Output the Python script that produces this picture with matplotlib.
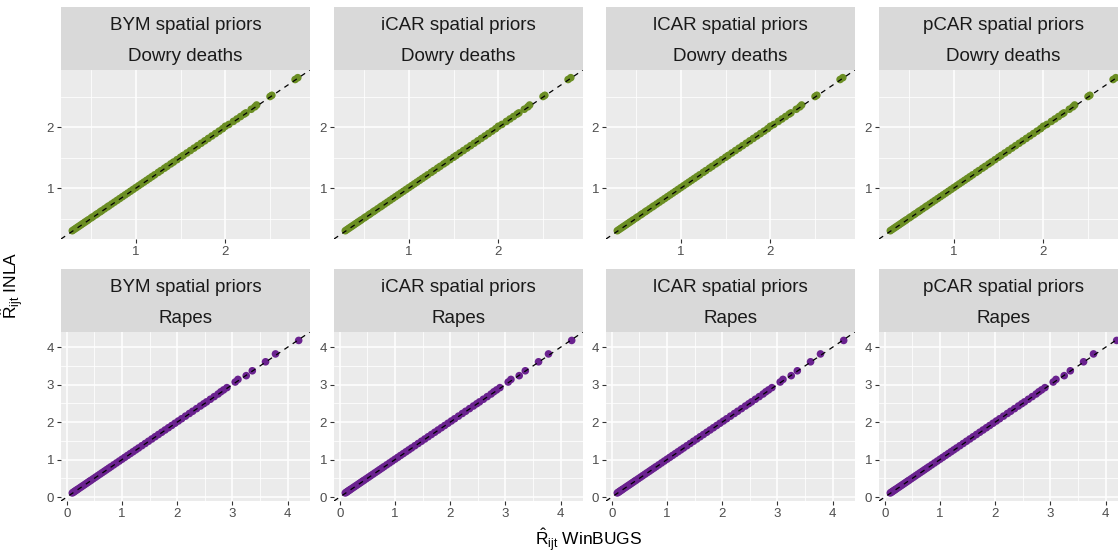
import numpy as np
import matplotlib
matplotlib.use("Agg")
import matplotlib.pyplot as plt

plt.rcParams['font.family'] = ['Liberation Sans', 'DejaVu Sans']
plt.rcParams['mathtext.fontset'] = 'custom'
plt.rcParams['mathtext.rm'] = 'Liberation Sans'
plt.rcParams['mathtext.it'] = 'Liberation Sans:italic'

models = ['BYM', 'iCAR', 'lCAR', 'pCAR']
crimes = ['Dowry deaths', 'Rapes']
colours = {'Dowry deaths': '#6B8E23', 'Rapes': '#6A228F'}

# relative risk estimates (WinBUGS on x, INLA on y)
dowry_bugs = [0.29, 0.31, 0.33, 0.35, 0.37, 0.39, 0.41, 0.43, 0.45, 0.47,
              0.50, 0.52, 0.55, 0.57, 0.60, 0.62, 0.65, 0.68, 0.70, 0.73,
              0.76, 0.79, 0.82, 0.85, 0.88, 0.91, 0.94, 0.97, 1.00, 1.03,
              1.06, 1.09, 1.12, 1.15, 1.18, 1.21, 1.25, 1.28, 1.32, 1.35,
              1.39, 1.42, 1.46, 1.50, 1.53, 1.57, 1.61, 1.65, 1.69, 1.73,
              1.77, 1.81, 1.85, 1.89, 1.93, 1.97, 2.00, 2.04, 2.09, 2.13,
              2.17, 2.21, 2.23, 2.29, 2.33, 2.35, 2.50, 2.52, 2.78, 2.81]
dowry_inla = [0.30, 0.32, 0.34, 0.36, 0.38, 0.40, 0.42, 0.44, 0.46, 0.48,
              0.51, 0.53, 0.56, 0.58, 0.61, 0.63, 0.66, 0.69, 0.71, 0.74,
              0.77, 0.80, 0.83, 0.86, 0.89, 0.92, 0.95, 0.98, 1.01, 1.04,
              1.07, 1.10, 1.13, 1.16, 1.19, 1.22, 1.26, 1.29, 1.33, 1.36,
              1.40, 1.43, 1.47, 1.51, 1.54, 1.58, 1.62, 1.66, 1.70, 1.74,
              1.78, 1.82, 1.86, 1.90, 1.94, 1.98, 2.02, 2.05, 2.10, 2.14,
              2.18, 2.22, 2.24, 2.30, 2.34, 2.37, 2.51, 2.53, 2.79, 2.82]

rapes_bugs = [0.10, 0.12, 0.14, 0.16, 0.18, 0.20, 0.23, 0.26, 0.29, 0.32,
              0.35, 0.38, 0.41, 0.44, 0.48, 0.52, 0.56, 0.60, 0.64, 0.68,
              0.72, 0.76, 0.80, 0.85, 0.90, 0.95, 1.00, 1.05, 1.10, 1.15,
              1.20, 1.25, 1.30, 1.36, 1.42, 1.48, 1.54, 1.60, 1.66, 1.72,
              1.78, 1.84, 1.90, 1.96, 2.02, 2.08, 2.15, 2.22, 2.28, 2.35,
              2.42, 2.48, 2.53, 2.60, 2.67, 2.74, 2.79, 2.84, 2.90, 3.05,
              3.10, 3.25, 3.36, 3.60, 3.78, 4.20]
rapes_inla = [0.11, 0.13, 0.15, 0.17, 0.19, 0.21, 0.24, 0.27, 0.30, 0.33,
              0.36, 0.39, 0.42, 0.45, 0.49, 0.53, 0.57, 0.61, 0.65, 0.69,
              0.73, 0.77, 0.81, 0.86, 0.91, 0.96, 1.01, 1.06, 1.11, 1.16,
              1.21, 1.26, 1.31, 1.37, 1.43, 1.49, 1.55, 1.61, 1.67, 1.73,
              1.79, 1.85, 1.91, 1.97, 2.03, 2.09, 2.16, 2.23, 2.29, 2.36,
              2.43, 2.49, 2.54, 2.61, 2.68, 2.75, 2.81, 2.86, 2.92, 3.07,
              3.14, 3.24, 3.37, 3.61, 3.82, 4.18]

data = {'Dowry deaths': (dowry_bugs, dowry_inla),
        'Rapes': (rapes_bugs, rapes_inla)}
ticks = {'Dowry deaths': [1, 2], 'Rapes': [0, 1, 2, 3, 4]}
minor = {'Dowry deaths': [0.5, 1.5, 2.5], 'Rapes': [0.5, 1.5, 2.5, 3.5]}

W, H = 1118, 554
fig = plt.figure(figsize=(W / 100, H / 100), dpi=100)

col_left = [61, 334, 606, 879]
panel_w = 249
rows = {'Dowry deaths': (70, 239, 7), 'Rapes': (332, 501, 269)}

for crime in crimes:
    top, bottom, strip_top = rows[crime]
    x, y = data[crime]
    lo = min(min(x), min(y))
    hi = max(max(x), max(y))
    pad = (hi - lo) * 0.05
    lim = (lo - pad, hi + pad)
    for i, m in enumerate(models):
        left = col_left[i]
        ax = fig.add_axes([left / W, 1 - bottom / H, panel_w / W, (bottom - top) / H])
        ax.set_facecolor('#EBEBEB')
        ax.scatter(x, y, s=30, color=colours[crime], edgecolors='none', zorder=3)
        ax.axline((0, 0), slope=1, color='black', lw=0.9, ls=(0, (4, 4)), zorder=4)
        ax.set_xlim(lim)
        ax.set_ylim(lim)
        ax.set_xticks(ticks[crime])
        ax.set_yticks(ticks[crime])
        ax.set_xticks(minor[crime], minor=True)
        ax.set_yticks(minor[crime], minor=True)
        ax.grid(which='major', color='white', lw=1.1, zorder=0)
        ax.grid(which='minor', color='white', lw=0.55, zorder=0)
        ax.set_axisbelow(True)
        for s in ax.spines.values():
            s.set_visible(False)
        ax.tick_params(which='major', length=3, width=0.8, color='#333333',
                       labelsize=9.5, labelcolor='#4D4D4D', pad=2)
        ax.tick_params(which='minor', length=0)

        # facet strip
        sax = fig.add_axes([left / W, 1 - top / H, panel_w / W, (top - strip_top) / H])
        sax.set_facecolor('#D9D9D9')
        sax.set_xticks([])
        sax.set_yticks([])
        for s in sax.spines.values():
            s.set_visible(False)
        sax.text(0.5, 0.70, f'{m} spatial priors', ha='center', va='center',
                 fontsize=13.5, color='#1A1A1A', transform=sax.transAxes)
        sax.text(0.5, 0.21, crime, ha='center', va='center',
                 fontsize=13.5, color='#1A1A1A', transform=sax.transAxes)

fig.text(589 / W, 1 - 540 / H, r'$\hat{\mathrm{R}}_{\mathrm{ijt}}$ WinBUGS',
         ha='center', va='center', fontsize=12.5, color='black')
fig.text(12 / W, 1 - 285 / H, r'$\hat{\mathrm{R}}_{\mathrm{ijt}}$ INLA',
         ha='center', va='center', fontsize=12.5, color='black', rotation=90)

fig.savefig('out.png', dpi=100)
